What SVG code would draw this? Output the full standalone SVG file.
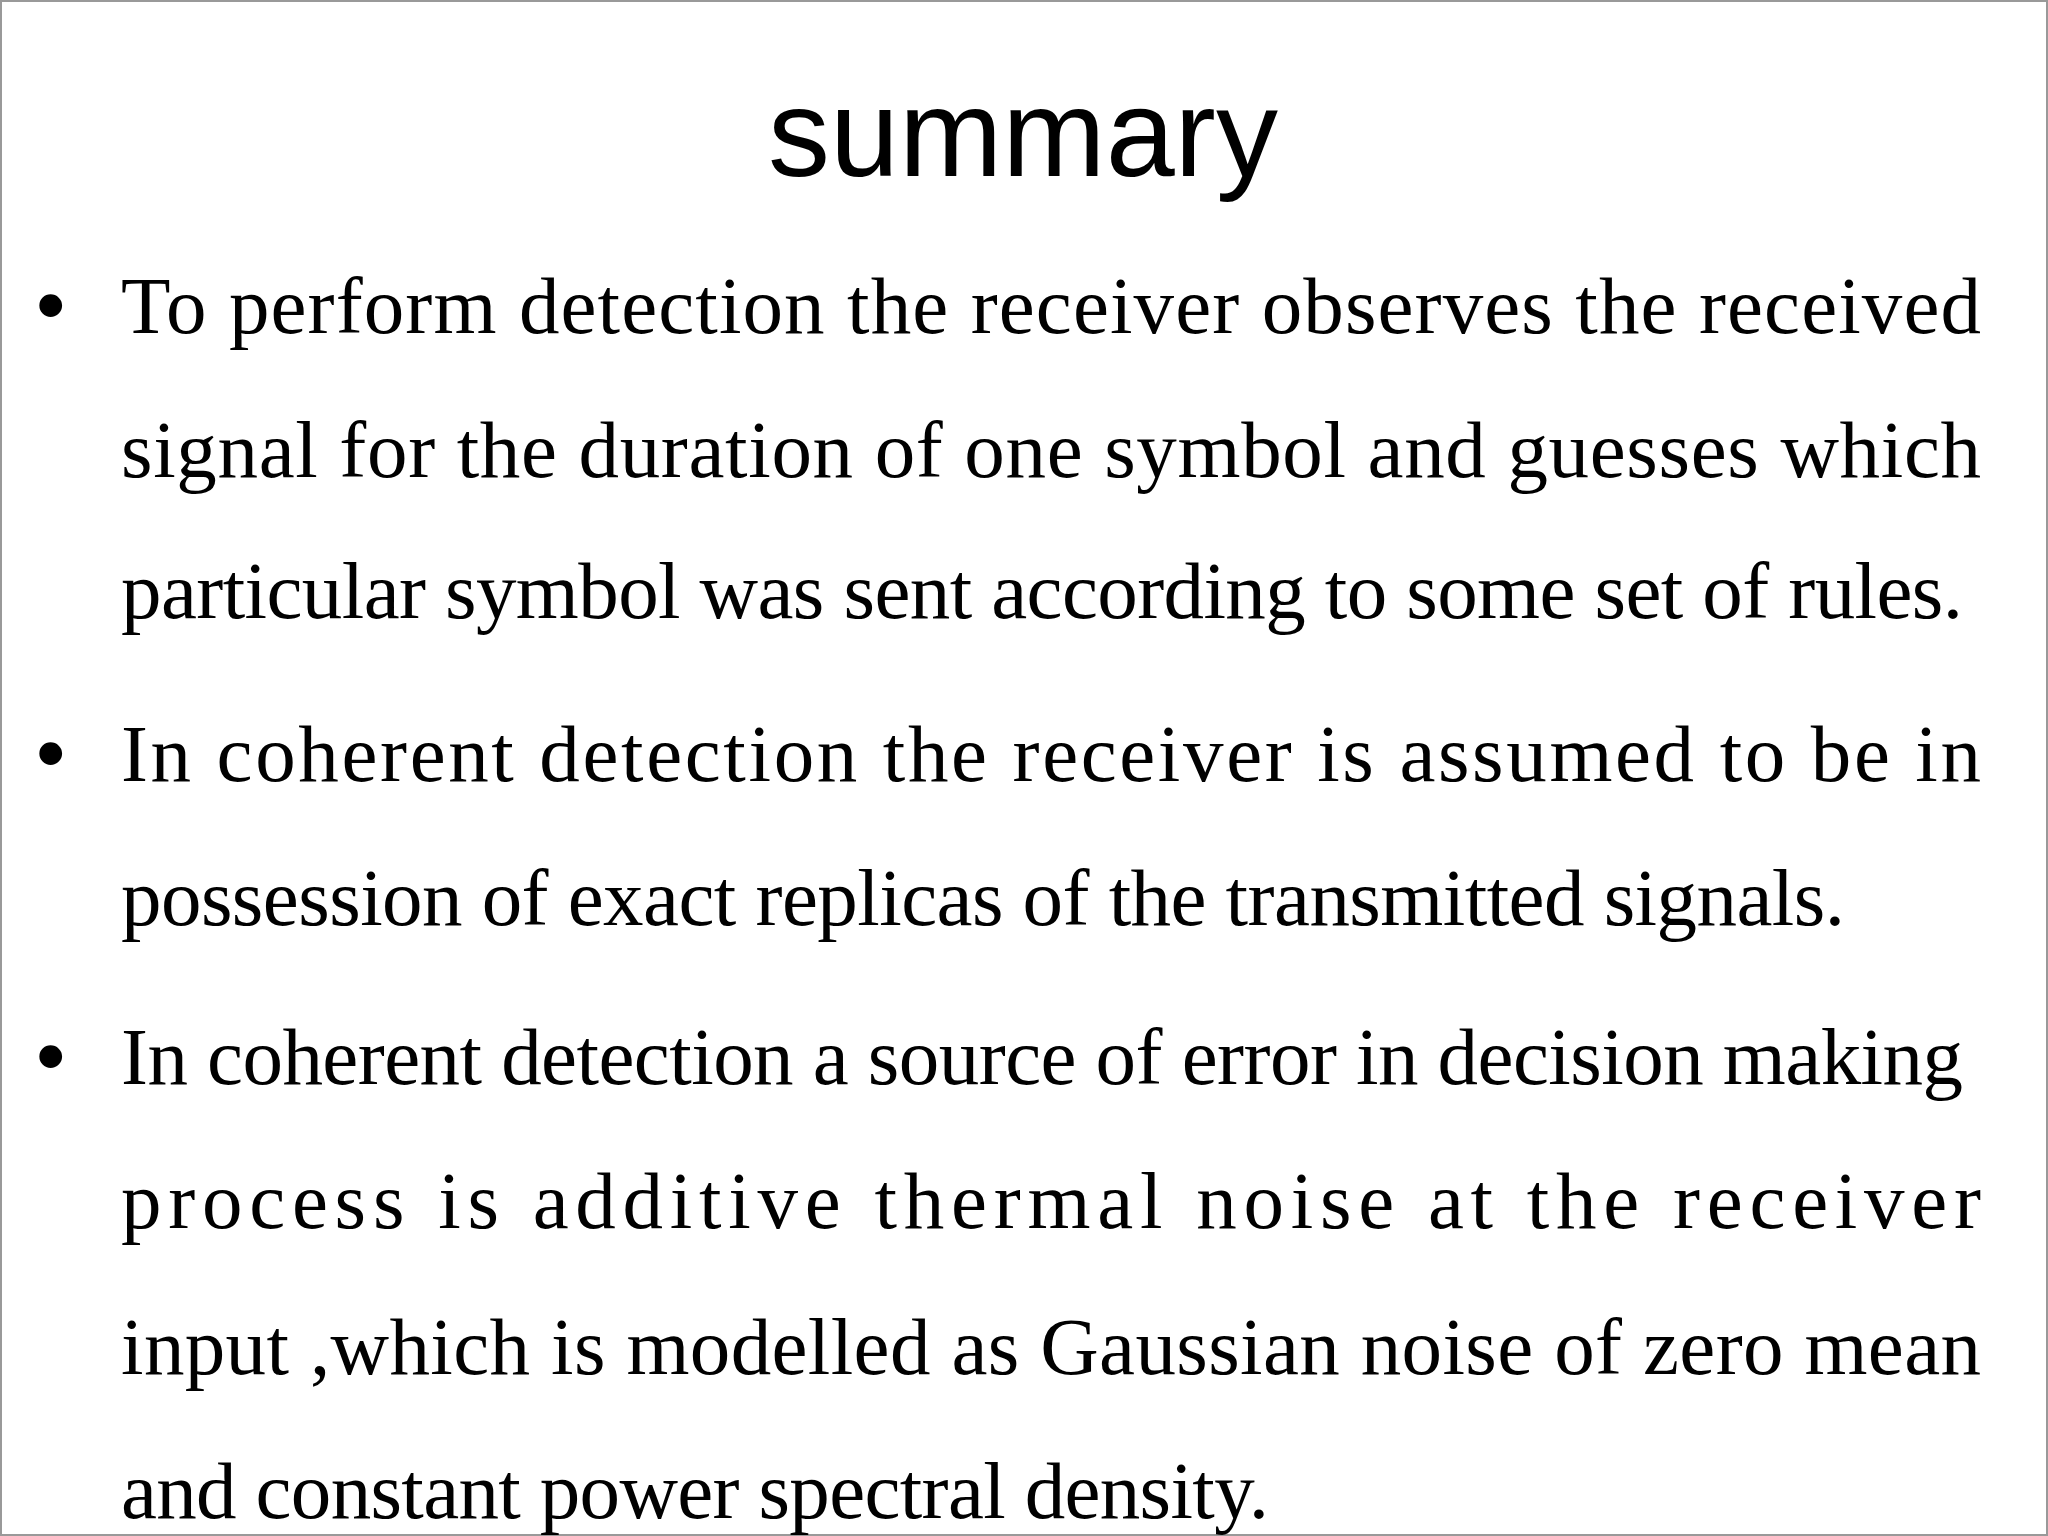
<svg xmlns="http://www.w3.org/2000/svg" width="2048" height="1536" viewBox="0 0 2048 1536">
<style>
.t{font-family:"Liberation Serif","Times New Roman",serif;font-size:81px;fill:#000}
.b{font-family:"Liberation Sans",Arial,sans-serif;font-size:84px;fill:#000}
</style>
<rect x="0" y="0" width="2048" height="1536" fill="#fff"/>
<rect x="1" y="1" width="2046" height="1534" fill="none" stroke="#999" stroke-width="2"/>
<g id="title"><text x="1023" y="176" text-anchor="middle" font-family="Liberation Sans, Arial, sans-serif" font-size="124">summary</text></g>
<g id="bullets">
<text class="b" x="36" y="333">•</text>
<text class="b" x="36" y="781">•</text>
<text class="b" x="36" y="1084">•</text>
<text class="t" x="121" y="333" textLength="1860" lengthAdjust="spacing">To perform detection the receiver observes the received</text>
<text class="t" x="121" y="477" textLength="1860" lengthAdjust="spacing">signal for the duration of one symbol and guesses which</text>
<text class="t" x="121" y="618" textLength="1842" lengthAdjust="spacing">particular symbol was sent according to some set of rules.</text>
<text class="t" x="121" y="781" textLength="1860" lengthAdjust="spacing">In coherent detection the receiver is assumed to be in</text>
<text class="t" x="121" y="925" textLength="1724" lengthAdjust="spacing">possession of exact replicas of the transmitted signals.</text>
<text class="t" x="121" y="1084" textLength="1842" lengthAdjust="spacing">In coherent detection a source of error in decision making</text>
<text class="t" x="121" y="1228" textLength="1860" lengthAdjust="spacing">process is additive thermal noise at the receiver</text>
<text class="t" x="121" y="1374" textLength="1860" lengthAdjust="spacing">input ,which is modelled as Gaussian noise of zero mean</text>
<text class="t" x="121" y="1518" textLength="1148" lengthAdjust="spacing">and constant power spectral density.</text>
</g>
</svg>
